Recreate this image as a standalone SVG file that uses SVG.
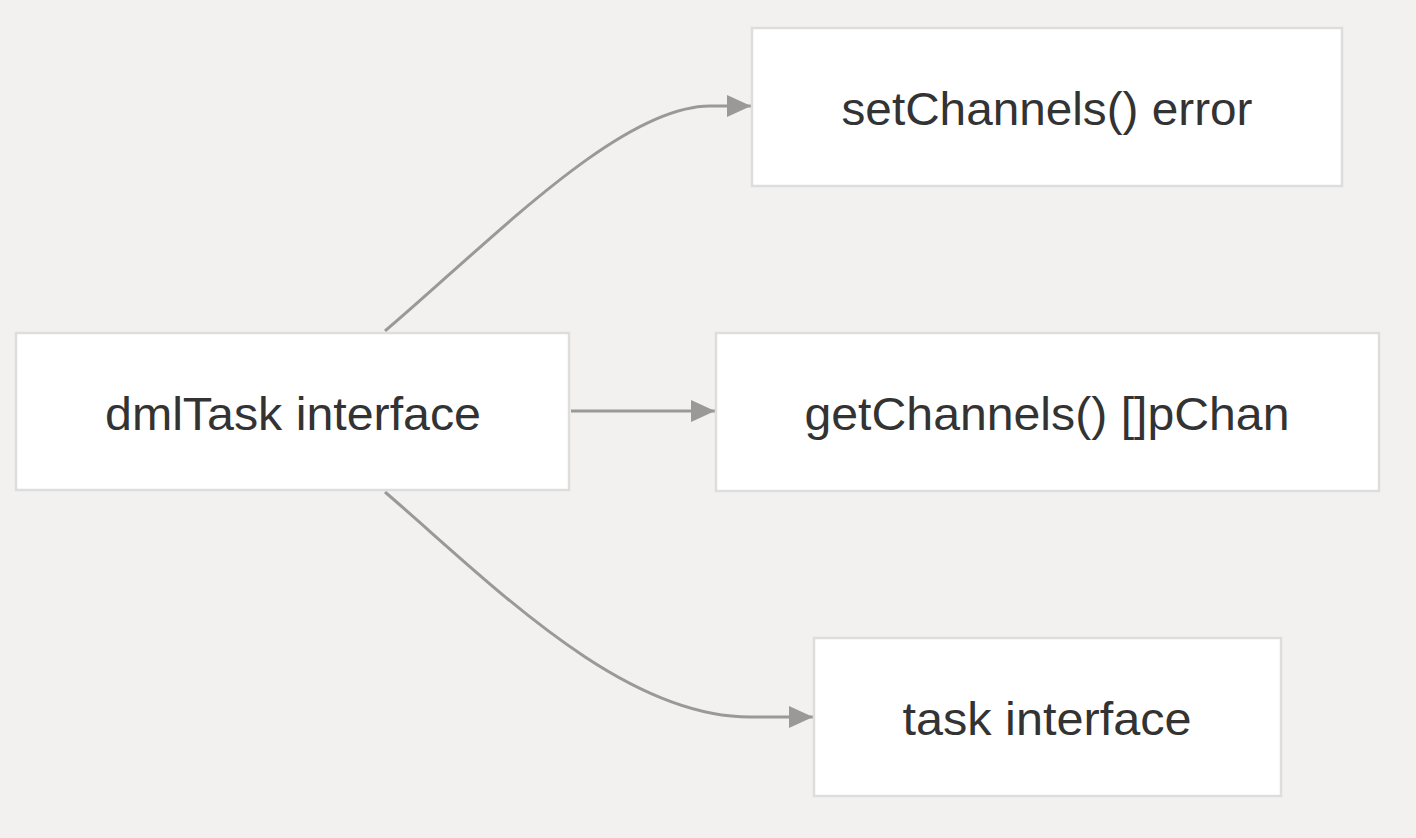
<svg xmlns="http://www.w3.org/2000/svg" width="1416" height="838" viewBox="0 0 1416 838">
<style>
.node rect{fill:#ffffff;stroke:#dddddd;stroke-width:2.5}
.node text{font-family:"Liberation Sans",Arial,sans-serif;font-size:46px;fill:#333333;text-anchor:middle}
.edge{fill:none;stroke:#999999;stroke-width:3}
</style>
<defs>
<marker id="ah" viewBox="0 0 24 22" refX="24" refY="11" markerWidth="24" markerHeight="22" markerUnits="userSpaceOnUse" orient="auto">
<path d="M0,0 L24,11 L0,22 Z" fill="#999999"/>
</marker>
</defs>
<rect width="1416" height="838" fill="#f2f1ef"/>
<g id="connectors">
<path class="edge" d="M385,331 C490,242 620,106 710,106 L751,106" marker-end="url(#ah)"/>
<path class="edge" d="M571,411 L715,411" marker-end="url(#ah)"/>
<path class="edge" d="M385,492 C490,582 620,717 750,717 L813,717" marker-end="url(#ah)"/>
</g>
<g id="dmlTask" class="node">
<rect x="16" y="333" width="553" height="157"/>
<text x="293" y="430" textLength="376" lengthAdjust="spacingAndGlyphs">dmlTask interface</text>
</g>
<g id="setChannels" class="node">
<rect x="752" y="28" width="590" height="158"/>
<text x="1047" y="125" textLength="411" lengthAdjust="spacingAndGlyphs">setChannels() error</text>
</g>
<g id="getChannels" class="node">
<rect x="716" y="333" width="663" height="158"/>
<text x="1047" y="430" textLength="485" lengthAdjust="spacingAndGlyphs">getChannels() []pChan</text>
</g>
<g id="task" class="node">
<rect x="814" y="638" width="467" height="158"/>
<text x="1047" y="735" textLength="289" lengthAdjust="spacingAndGlyphs">task interface</text>
</g>
</svg>
